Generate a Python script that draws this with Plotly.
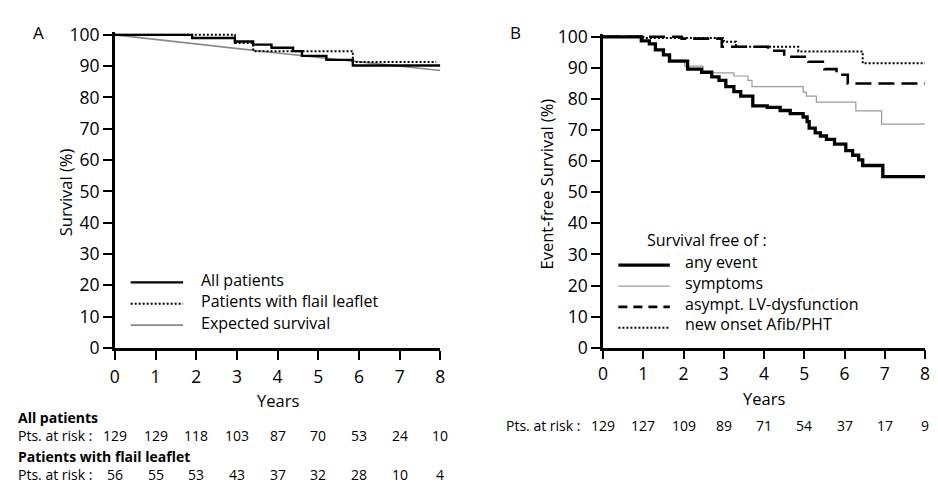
import plotly.graph_objects as go

W, H = 938, 494
FONT = "Open Sans, Noto Sans, sans-serif"

# ---------------- data ----------------
years = [0, 1, 2, 3, 4, 5, 6, 7, 8]
y_ticks = [0, 10, 20, 30, 40, 50, 60, 70, 80, 90, 100]

# Panel A (overall survival)
all_t = [0, 1.9, 2.95, 3.4, 3.85, 4.38, 4.6, 5.2, 5.85, 8]
all_s = [100, 99.0, 97.9, 96.9, 95.9, 94.8, 93.3, 92.0, 90.2, 90.2]
flail_t = [0, 2.95, 3.4, 5.85, 7.9]
flail_s = [100, 97.4, 94.8, 91.3, 91.3]
exp_t = [0, 1, 2, 3, 4, 5, 6, 7, 8]
exp_s = [100, 98.5, 97.1, 95.6, 94.2, 92.8, 91.4, 90.0, 88.6]
risk_all = [129, 129, 118, 103, 87, 70, 53, 24, 10]
risk_flail = [56, 55, 53, 43, 37, 32, 28, 10, 4]

# Panel B (event-free survival)
any_t = [0, 0.95, 1.15, 1.3, 1.5, 1.65, 2.1, 2.45, 2.7, 2.88, 3.05, 3.25, 3.42,
         3.72, 4.08, 4.4, 4.65, 4.97, 5.07, 5.12, 5.27, 5.4, 5.55, 5.75, 6.03,
         6.2, 6.35, 6.45, 6.95, 8]
any_s = [100, 98.7, 97.7, 95.8, 94.2, 92.2, 89.6, 88.6, 87.1, 86.0, 84.0, 82.4, 80.9,
         77.8, 77.3, 76.3, 75.3, 74.2, 72.7, 70.6, 69.1, 68.1, 67.0, 65.5, 63.4,
         61.9, 60.4, 58.6, 55.0, 55.0]
sym_t = [0, 0.95, 1.15, 1.3, 1.5, 1.68, 2.03, 2.48, 3.25, 3.6, 3.7, 4.97, 5.05, 5.3,
         6.28, 6.92, 8]
sym_s = [100, 98.7, 97.7, 95.8, 94.2, 92.5, 90.6, 88.4, 87.4, 86.0, 84.0, 82.2, 80.9,
         79.0, 76.2, 71.9, 71.9]
lv_t = [0, 1.95, 2.95, 4.1, 4.5, 5.1, 5.5, 5.8, 6.08, 8]
lv_s = [100, 99.4, 96.8, 95.5, 93.6, 92.0, 89.6, 87.8, 85.0, 85.0]
af_t = [0, 1.0, 3.0, 3.3, 4.85, 6.45, 8]
af_s = [100, 99.6, 98.4, 96.8, 95.3, 91.5, 91.5]
risk_b = [129, 127, 109, 89, 71, 54, 37, 17, 9]


def px(x):
    return x / W


def py(y):
    return 1 - y / H


fig = go.Figure()

# Panel A traces
fig.add_trace(go.Scatter(x=exp_t, y=exp_s, mode="lines", xaxis="x", yaxis="y",
                         line=dict(color="#8a8a8a", width=1.6), name="Expected survival"))
fig.add_trace(go.Scatter(x=all_t, y=all_s, mode="lines", xaxis="x", yaxis="y",
                         line=dict(color="black", width=2.4, shape="hv"), name="All patients"))
fig.add_trace(go.Scatter(x=flail_t, y=flail_s, mode="lines", xaxis="x", yaxis="y",
                         line=dict(color="black", width=2, shape="hv", dash="2px,2px"),
                         name="Patients with flail leaflet"))

# Panel B traces
fig.add_trace(go.Scatter(x=sym_t, y=sym_s, mode="lines", xaxis="x2", yaxis="y2",
                         line=dict(color="#9a9a9a", width=1.2, shape="hv"), name="symptoms"))
fig.add_trace(go.Scatter(x=af_t, y=af_s, mode="lines", xaxis="x2", yaxis="y2",
                         line=dict(color="black", width=2, shape="hv", dash="2px,2px"),
                         name="new onset Afib/PHT"))
fig.add_trace(go.Scatter(x=lv_t, y=lv_s, mode="lines", xaxis="x2", yaxis="y2",
                         line=dict(color="black", width=2.6, shape="hv", dash="16px,7px"),
                         name="asympt. LV-dysfunction"))
fig.add_trace(go.Scatter(x=any_t, y=any_s, mode="lines", xaxis="x2", yaxis="y2",
                         line=dict(color="black", width=3.3, shape="hv"), name="any event"))

axis_common = dict(showline=True, linewidth=2.5, linecolor="black", ticks="outside",
                   ticklen=9, tickwidth=2, tickcolor="black", showgrid=False,
                   zeroline=False, tickfont=dict(family=FONT, size=17.5, color="black"))

fig.update_layout(
    width=W, height=H, margin=dict(l=0, r=0, t=0, b=0),
    paper_bgcolor="white", plot_bgcolor="white", showlegend=False,
    font=dict(family=FONT, color="black"),
    xaxis=dict(domain=[px(111), px(440)], range=[0, 8], tickvals=years,
               anchor="y", ticklabelstandoff=2, **axis_common),
    yaxis=dict(domain=[py(353), py(22.7)], range=[0, 101], tickvals=y_ticks,
               anchor="x", **axis_common),
    xaxis2=dict(domain=[px(604.5), px(930)], range=[0, 8], tickvals=years,
                anchor="y2", ticklabelstandoff=0, **axis_common),
    yaxis2=dict(domain=[py(352.7), py(24.75)], range=[0, 101], tickvals=y_ticks,
                anchor="x2", **axis_common),
)

ann = []


def text(x, y, s, size=16, xanchor="center", bold=False, xref="paper", angle=0):
    ann.append(dict(x=x if xref != "paper" else px(x), y=py(y), xref=xref, yref="paper",
                    text=f"<b>{s}</b>" if bold else s, showarrow=False,
                    xanchor=xanchor, yanchor="middle", textangle=angle, borderpad=0,
                    font=dict(family=FONT, size=size, color="black")))


# panel labels
text(33.5, 24, "A", size=17)
text(516, 24, "B", size=17)
# axis titles
text(62, 190, "Survival (%)", size=16.5, angle=-90)
text(547, 182, "Event-free Survival (%)", size=16.5, angle=-90)
text(275.5, 408, "Years", size=16.5)
text(767, 405.5, "Years", size=16.5)

# risk tables
text(12, 426, "All patients", size=14, xanchor="left", bold=True)
text(12, 444.5, "Pts. at risk :", size=14, xanchor="left")
text(12, 466, "Patients with flail leaflet", size=14, xanchor="left", bold=True)
text(12, 485.5, "Pts. at risk :", size=14, xanchor="left")
for t, n1, n2 in zip(years, risk_all, risk_flail):
    text(t, 444.5, str(n1), size=14, xref="x")
    text(t, 485.5, str(n2), size=14, xref="x")
text(505, 434, "Pts. at risk :", size=14, xanchor="left")
for t, n in zip(years, risk_b):
    text(t, 434, str(n), size=14, xref="x2")

# legend A
legA = [("All patients", dict(color="black", width=2.4)),
        ("Patients with flail leaflet", dict(color="black", width=2, dash="2px,2px")),
        ("Expected survival", dict(color="#8a8a8a", width=1.6))]
shapes = []
for i, (lab, ln) in enumerate(legA):
    yy = 282 + 22.3 * i
    shapes.append(dict(type="line", xref="paper", yref="paper", x0=px(127), x1=px(180),
                       y0=py(yy + 2.5), y1=py(yy + 2.5), line=ln))
    text(197, yy, lab, xanchor="left")

# legend B
text(648, 240, "Survival free of :", xanchor="left")
legB = [("any event", dict(color="black", width=3.3)),
        ("symptoms", dict(color="#9a9a9a", width=1.2)),
        ("asympt. LV-dysfunction", dict(color="black", width=2.6, dash="9px,6px")),
        ("new onset Afib/PHT", dict(color="black", width=2, dash="2px,2px"))]
for i, (lab, ln) in enumerate(legB):
    yy = 263 + 21.8 * i
    shapes.append(dict(type="line", xref="paper", yref="paper", x0=px(620), x1=px(672),
                       y0=py(yy + 3.5), y1=py(yy + 3.5), line=ln))
    text(686.5, yy, lab, xanchor="left")

fig.update_layout(annotations=ann, shapes=shapes)
fig.write_html("out.html")
